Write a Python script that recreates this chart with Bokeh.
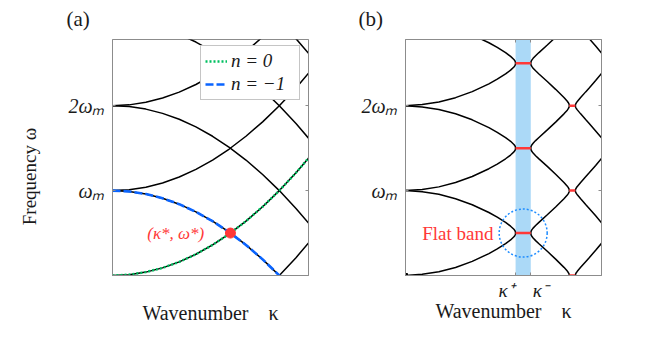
from bokeh.plotting import figure
from bokeh.layouts import row
from bokeh.models import (Range1d, FixedTicker, LinearAxis, Label, Legend,
                          LegendItem, BoxAnnotation)
from bokeh.embed import file_html
from bokeh.resources import INLINE

# ---------------- data ----------------
omega_m = 1.0            # modulation frequency (tick unit)
kappa_max = 1.175        # right end of both panels (kappa units)
omega_max = 2.78         # top of both panels (omega_m units)

# panel (a): free branch omega0(kappa) read along the green n = 0 curve
kappa_a = [0.0, 0.1, 0.2, 0.3, 0.4, 0.5, 0.6, 0.7, 0.8, 0.9, 1.0, 1.1, 1.2]
omega0_a = [0.0, 0.01, 0.04, 0.09, 0.16, 0.25, 0.36, 0.49, 0.64, 0.81, 1.0, 1.21, 1.44]
orders_up = [-1, 0, 1, 2]      # branches  +omega0 + n*omega_m
orders_down = [1, 2, 3, 4]     # branches  -omega0 + n*omega_m
kappa_star = 0.707
omega_star = 0.5

kappa_plus = 0.660
kappa_minus = 0.751
kb_left = [0.0, 0.1, 0.2, 0.3, 0.4, 0.5, 0.55, 0.6, 0.63, 0.65, 0.655, 0.658, 0.660]
wb_left = [0.0, 0.014, 0.044, 0.095, 0.166, 0.258, 0.313, 0.375, 0.419, 0.456, 0.469, 0.480, 0.5]
kb_right = [0.751, 0.753, 0.757, 0.765, 0.78, 0.8, 0.85, 0.9, 0.95, 0.97, 0.975, 0.98, 0.981, 0.982]
wb_right = [0.5, 0.521, 0.537, 0.558, 0.589, 0.626, 0.715, 0.807, 0.904, 0.948, 0.962, 0.979, 0.985, 1.0]
kb_far = [1.018, 1.02, 1.025, 1.03, 1.05, 1.08, 1.1, 1.14, 1.175]
wb_far = [0.0, 0.018, 0.036, 0.049, 0.096, 0.163, 0.207, 0.297, 0.379]
gap_edges = [0.982, 1.018]
periods_b = [0, 1, 2]

# ---------------- style ----------------
FONT = "Liberation Serif"
AX = "#8c8c8c"
TXT = "#1a1a1a"
RED = "#ff3838"
GREEN = "#00c060"
BLUE = "#0a64ff"
BAND = "#abd9f7"
H = 344
TOP = 37
FRAME_H = 238


def make_fig(width, left, right, title):
    p = figure(width=width, height=H, title=title,
               x_range=Range1d(0, kappa_max), y_range=Range1d(0, omega_max),
               output_backend="svg", toolbar_location=None,
               min_border_left=left, min_border_right=right,
               min_border_top=TOP, min_border_bottom=H - TOP - FRAME_H)
    p.grid.visible = False
    p.outline_line_color = AX
    p.outline_line_width = 1
    p.background_fill_color = "white"
    p.border_fill_color = "white"
    p.title.text_font = FONT
    p.title.text_font_size = "21px"
    p.title.text_font_style = "normal"
    p.title.text_color = TXT
    p.title.align = "left"
    p.title.vertical_align = "top"
    p.title.standoff = 13
    yax = p.left[0]
    yax.ticker = FixedTicker(ticks=[omega_m, 2 * omega_m])
    yax.major_label_overrides = {omega_m: "ωₘ", 2 * omega_m: "2ωₘ"}
    yax.major_tick_in = 3
    yax.major_tick_out = 0
    yax.minor_tick_line_color = None
    yax.axis_line_color = AX
    yax.major_tick_line_color = AX
    yax.major_label_text_font = FONT
    yax.major_label_text_font_size = "20px"
    yax.major_label_text_font_style = "italic"
    yax.major_label_text_color = TXT
    yax.major_label_standoff = 8
    rax = LinearAxis(ticker=FixedTicker(ticks=[], minor_ticks=[omega_m, 2 * omega_m]),
                     minor_tick_in=3, minor_tick_out=0, major_tick_line_color=None,
                     axis_line_color=AX, minor_tick_line_color=AX)
    p.add_layout(rax, "right")
    xax = p.below[0]
    xax.axis_line_color = AX
    xax.major_tick_line_color = AX
    xax.minor_tick_line_color = None
    xax.major_tick_in = 3
    xax.major_tick_out = 0
    xax.major_label_text_font = FONT
    xax.major_label_text_font_size = "19px"
    xax.major_label_text_font_style = "italic"
    xax.major_label_text_color = TXT
    xax.axis_label = "Wavenumber\u2003κ"
    xax.axis_label_text_font = FONT
    xax.axis_label_text_font_size = "20px"
    xax.axis_label_text_font_style = "normal"
    xax.axis_label_text_color = TXT
    return p


# ---------------- panel (a) ----------------
pa = make_fig(332, 112, 24, "(a)")
pa.title.offset = -46
pa.below[0].ticker = FixedTicker(ticks=[])
pa.below[0].axis_label_standoff = 26
ya = pa.left[0]
ya.axis_label = "Frequency ω\u2003\u2003"
ya.axis_label_text_font = FONT
ya.axis_label_text_font_size = "19px"
ya.axis_label_text_font_style = "normal"
ya.axis_label_text_color = TXT
ya.axis_label_standoff = 25

for n in orders_up:
    pa.line(kappa_a, [w + n * omega_m for w in omega0_a], line_color="black", line_width=1.5)
for n in orders_down:
    pa.line(kappa_a, [-w + n * omega_m for w in omega0_a], line_color="black", line_width=1.5)

g = pa.line(kappa_a, [w for w in omega0_a], line_color=GREEN, line_width=2.4, line_dash="2 2")
b = pa.line(kappa_a, [-w + omega_m for w in omega0_a], line_color=BLUE, line_width=2.6, line_dash="8 3")
pa.scatter([kappa_star], [omega_star], size=10, color=RED, line_color=RED)

pa.add_layout(Label(x=0.55, y=omega_star, text="(κ*, ω*)", text_color=RED,
                    text_font=FONT, text_font_size="17px", text_font_style="italic",
                    text_align="right", text_baseline="middle"))

leg = Legend(items=[LegendItem(label="n = 0", renderers=[g]),
                    LegendItem(label="n = −1", renderers=[b])],
             location=(88, 175), padding=4, spacing=1, margin=0,
             glyph_width=22, glyph_height=22, label_height=22, label_width=64,
             label_standoff=4,
             label_text_font=FONT, label_text_font_size="19px",
             label_text_font_style="italic", label_text_color=TXT,
             border_line_color=AX, border_line_width=1,
             background_fill_color="white", background_fill_alpha=1.0)
pa.add_layout(leg)

# ---------------- panel (b) ----------------
pb = make_fig(331, 73, 62, "(b)")
pb.title.offset = -47
xb = pb.below[0]
xb.ticker = FixedTicker(ticks=[kappa_plus, kappa_minus])
xb.major_label_overrides = {kappa_plus: "κ⁺\u2003", kappa_minus: "\u2003κ⁻"}
xb.major_label_standoff = 4
xb.axis_label_standoff = -4
tax = LinearAxis(ticker=FixedTicker(ticks=[], minor_ticks=[kappa_plus, kappa_minus]),
                 minor_tick_in=3, minor_tick_out=0, major_tick_line_color=None,
                 axis_line_color=AX, minor_tick_line_color=AX)
pb.add_layout(tax, "above")

pb.add_layout(BoxAnnotation(left=kappa_plus, right=kappa_minus, fill_color=BAND,
                            fill_alpha=1.0, line_alpha=0, level="underlay"))

for n in periods_b:
    for ks, ws in ((kb_left, wb_left), (kb_right, wb_right), (kb_far, wb_far)):
        pb.line(ks, [w + n * omega_m for w in ws], line_color="black", line_width=1.5)
        pb.line(ks, [omega_m - w + n * omega_m for w in ws], line_color="black", line_width=1.5)

pb.segment(x0=[kappa_plus] * len(periods_b), y0=[n + 0.5 * omega_m for n in periods_b],
           x1=[kappa_minus] * len(periods_b), y1=[n + 0.5 * omega_m for n in periods_b],
           line_color=RED, line_width=2.5)
pb.segment(x0=[gap_edges[0]] * len(periods_b), y0=[n * omega_m for n in periods_b],
           x1=[gap_edges[1]] * len(periods_b), y1=[n * omega_m for n in periods_b],
           line_color=RED, line_width=2.5)
pb.scatter([0.0], [0.0], size=4, marker="square", color="black")
pb.scatter([(kappa_plus + kappa_minus) / 2], [0.5 * omega_m], size=48, marker="circle",
           fill_alpha=0, line_color="#1e8cff", line_width=1.5, line_dash="2 2")

pb.add_layout(Label(x=0.527, y=0.5, text="Flat band", text_color=RED, text_font=FONT,
                    text_font_size="19px", text_align="right", text_baseline="middle"))

layout = row(pa, pb)
open("out.html", "w").write(file_html(layout, INLINE))
